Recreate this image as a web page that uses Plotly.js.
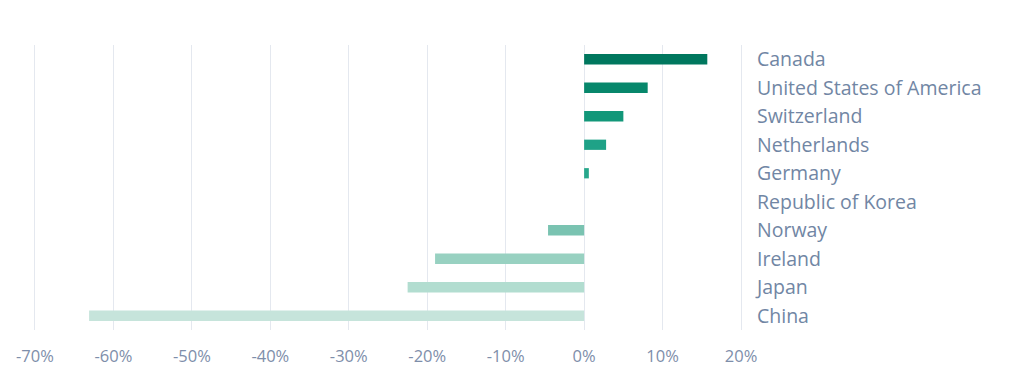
<!DOCTYPE html>
<html>
<head>
<meta charset="utf-8">
<script src="https://cdn.plot.ly/plotly-3.0.1.min.js"></script>
<style>html,body{margin:0;padding:0;background:#fff;}#chart{width:1024px;height:385px;}</style>
</head>
<body>
<div id="chart"></div>
<script>
const countries = ["Canada","United States of America","Switzerland","Netherlands","Germany","Republic of Korea","Norway","Ireland","Japan","China"];
const changePct = [15.7, 8.1, 5.0, 2.8, 0.6, 0, -4.6, -19.0, -22.5, -63.1];
const barColors = ["#00775e","#07876b","#129779","#1fa287","#27a78b","#4db59c","#7ac3b1","#98d1c1","#b2ddd0","#c6e4db"];
const tickVals = [-70,-60,-50,-40,-30,-20,-10,0,10,20];
const tickText = ["-70%","-60%","-50%","-40%","-30%","-20%","-10%","0%","10%","20%"];

Plotly.newPlot("chart", [{
  type: "bar",
  orientation: "h",
  x: changePct,
  y: countries,
  marker: {color: barColors},
  width: 0.36,
  hoverinfo: "x+y"
}], {
  width: 1024, height: 385,
  margin: {l: 33, r: 281, t: 45, b: 55},
  paper_bgcolor: "#fff", plot_bgcolor: "#fff",
  showlegend: false,
  font: {family: "'Open Sans', Lato, sans-serif", color: "#7186a4"},
  xaxis: {
    range: [-70.25, 20.25],
    tickvals: tickVals, ticktext: tickText,
    showgrid: true, gridcolor: "#e4e8ef", gridwidth: 1,
    zeroline: false, showline: false,
    ticks: "", tickfont: {size: 16.5, color: "#7e8eaa"},
    ticklabelstandoff: 14,
    fixedrange: true
  },
  yaxis: {
    side: "right",
    autorange: "reversed",
    showgrid: false, zeroline: false, showline: false,
    ticks: "", ticklabelstandoff: 13,
    tickfont: {size: 19.5, color: "#7186a4"},
    fixedrange: true
  }
}, {displayModeBar: false, staticPlot: true});
</script>
</body>
</html>
